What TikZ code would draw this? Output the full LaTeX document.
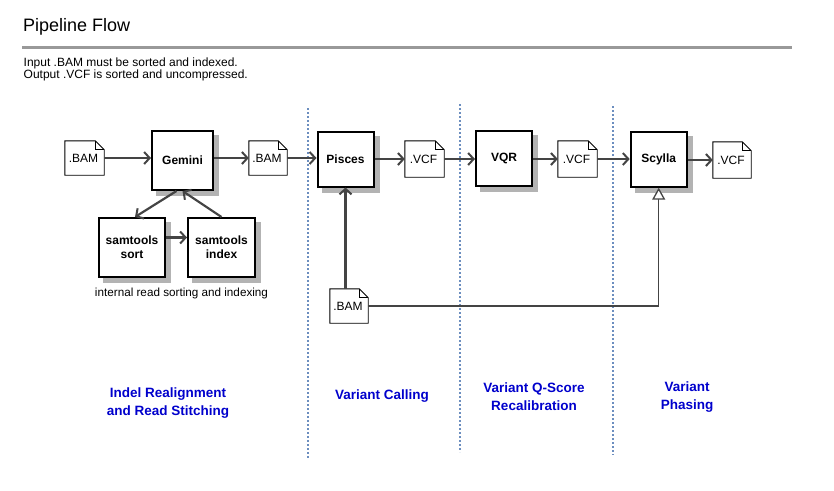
\documentclass[tikz,border=0pt]{standalone}
\usepackage{fontspec}
\setmainfont{Liberation Sans}
\usetikzlibrary{arrows.meta,backgrounds}

\definecolor{edgegray}{HTML}{444444}
\definecolor{rulegray}{HTML}{999999}
\definecolor{laneblue}{HTML}{6C8EBF}
\definecolor{phaseblue}{HTML}{0000CC}
\definecolor{shadowgray}{HTML}{B3B3B3}

\tikzset{
	proc/.style={draw, line width=2pt, fill=white, align=center,
		font=\bfseries\fontsize{12}{14}\selectfont,
		minimum width=56pt, minimum height=55pt, inner sep=0pt},
	doc/.style={minimum width=39pt, minimum height=34pt, inner sep=0pt,
		font=\fontsize{12}{14}\selectfont},
	docline/.style={draw=black, line width=0.9pt, fill=white},
	flow/.style={draw=edgegray, line width=2.2pt, -{Straight Barb[length=5.5pt,width=12pt,line width=2pt]}},
	side/.style={draw=edgegray, line width=1.3pt, -{Triangle[open,length=12pt,width=13pt,fill=white]}},
	lane/.style={draw=laneblue, line width=2.4pt, dash pattern=on 2pt off 2pt},
	phase/.style={text=phaseblue, align=center, font=\bfseries\fontsize{13.5}{18}\selectfont},
	note/.style={anchor=base west, inner sep=0pt, font=\fontsize{12}{14}\selectfont}
}

\begin{document}
\begin{tikzpicture}[x=1pt, y=-1pt]
	\useasboundingbox (0,0) rectangle (834,490);

	% header
	\node[anchor=base west, font=\fontsize{18}{22}\selectfont, inner sep=0pt] (title) at (23,31.7) {Pipeline Flow};
	\draw[rulegray, line width=2.5pt] (22,47.5) -- (792,47.5);
	\node[note] (noteA) at (23.5,66.7) {Input .BAM must be sorted and indexed.};
	\node[note] (noteB) at (23.5,78.5) {Output .VCF is sorted and uncompressed.};

	% lane separators
	\draw[lane] (308,108) -- (308,458);
	\draw[lane] (460,104) -- (460,452);
	\draw[lane] (613,106) -- (613,455);

	% tools
	\node[proc, minimum width=61pt, minimum height=59pt] (gemini) at (182.5,160.5) {Gemini};
	\node[proc, minimum width=66pt, minimum height=59pt] (sort) at (132,247.5) {samtools\\sort};
	\node[proc, minimum width=67pt, minimum height=59pt] (index) at (221.5,247.5) {samtools\\index};
	\node[proc] (pisces) at (345.5,159) {Pisces};
	\node[proc] (vqr) at (504,158.3) {VQR};
	\node[proc] (scylla) at (658.7,159.2) {Scylla};
	\begin{scope}[on background layer]
		\foreach \p in {gemini,sort,index,pisces,vqr,scylla}
			\fill[shadowgray] ([xshift=5pt,yshift=-5pt]\p.south west) rectangle ([xshift=5pt,yshift=-5pt]\p.north east);
	\end{scope}

	% files
	\node[doc] (bamA) at (84.5,158) {};
	\node[doc, minimum width=38pt] (bamB) at (268,158) {};
	\node[doc, minimum width=38pt] (bamC) at (349,306) {};
	\node[doc, minimum height=36pt] (vcfA) at (424.5,159) {};
	\node[doc, minimum height=36pt] (vcfB) at (577.5,159) {};
	\node[doc, minimum width=38pt, minimum height=36pt] (vcfC) at (732,160) {};
	\foreach \d in {bamA,bamB,bamC,vcfA,vcfB,vcfC}{
		\draw[docline] (\d.south west) -- (\d.north west) -- ([xshift=-9pt]\d.north east)
			-- ([yshift=-9pt]\d.north east) -- (\d.south east) -- cycle;
		\draw[docline, fill=none] ([xshift=-9pt]\d.north east) -- ([xshift=-9pt,yshift=-9pt]\d.north east)
			-- ([yshift=-9pt]\d.north east);
	}
	\foreach \d/\t in {bamA/.BAM,bamB/.BAM,bamC/.BAM,vcfA/.VCF,vcfB/.VCF,vcfC/.VCF}
		\node[doc, xshift=-1pt] at (\d) {\t};

	% main flow
	\draw[flow] (bamA.east) -- (bamA.east -| gemini.west);
	\draw[flow] (gemini.east |- bamB) -- (bamB.west);
	\draw[flow] (bamB.east) -- (bamB.east -| pisces.west);
	\draw[flow] (pisces.east |- vcfA) -- (vcfA.west);
	\draw[flow] (vcfA.east) -- (vcfA.east -| vqr.west);
	\draw[flow] (vqr.east |- vcfB) -- (vcfB.west);
	\draw[flow] (vcfB.east) -- (vcfB.east -| scylla.west);
	\draw[flow] (scylla.east |- vcfC) -- (vcfC.west);

	% internal sorting
	\draw[flow] ([xshift=-6pt]gemini.south) -- ([xshift=3pt]sort.north);
	\draw[flow] ([yshift=10pt]sort.east) -- ([yshift=10pt]index.west);
	\draw[flow] (index.north) -- (gemini.south);
	\node[font=\fontsize{11.7}{14}\selectfont] (internal) at (181.5,293) {internal read sorting and indexing};

	% bam inputs
	\draw[flow] (pisces.south |- bamC.north) -- (pisces.south);
	\draw[side] (bamC.east) -| (scylla.south);

	% phases
	\node[phase] (realign) at (168,403) {Indel Realignment\\and Read Stitching};
	\node[phase] (calling) at (382,396) {Variant Calling};
	\node[phase] (recal) at (534,396.5) {Variant Q-Score\\Recalibration};
	\node[phase] (phasing) at (687,397.5) {Variant\\Phasing};
\end{tikzpicture}
\end{document}
